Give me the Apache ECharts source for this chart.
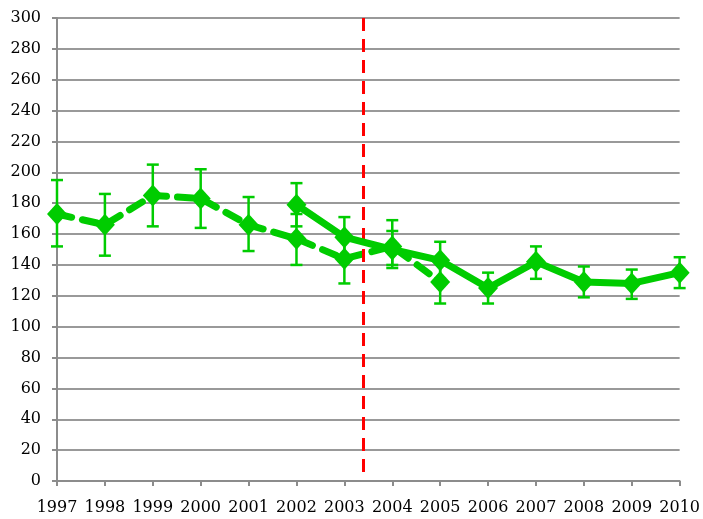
<!DOCTYPE html>
<html>
<head>
<meta charset="utf-8">
<script src="https://cdn.jsdelivr.net/npm/echarts@6/dist/echarts.min.js"></script>
<style>
  html, body { margin: 0; padding: 0; background: #fff; }
  #chart { width: 703px; height: 519px; }
</style>
</head>
<body>
<div id="chart"></div>
<script>
// Years shown along the x axis
var years = [1997, 1998, 1999, 2000, 2001, 2002, 2003, 2004, 2005, 2006, 2007, 2008, 2009, 2010];

// Earlier series (dashed), 1997-2005
var earlyYears = [1997, 1998, 1999, 2000, 2001, 2002, 2003, 2004, 2005];
var earlyValues = [173, 166, 185, 183, 166, 157, 144, 152, 129];
var earlyLow    = [152, 146, 165, 164, 149, 140, 128, 140, 115];
var earlyHigh   = [195, 186, 205, 202, 184, 173, 158, 162, 142];

// Later series (solid), 2002-2010
var lateYears = [2002, 2003, 2004, 2005, 2006, 2007, 2008, 2009, 2010];
var lateValues = [179, 158, 150, 143, 125, 142, 129, 128, 135];
var lateLow    = [165, 145, 138, 131, 115, 131, 119, 118, 125];
var lateHigh   = [193, 171, 169, 155, 135, 152, 139, 137, 145];

// Y axis tick values
var yTicks = [0, 20, 40, 60, 80, 100, 120, 140, 160, 180, 200, 220, 240, 260, 280, 300];

// Position of the vertical break marker (between 2003 and 2004)
var breakYear = 2003.39;

var GREEN = '#00cc00';
var FONT = 'DejaVu Serif';

function pairs(xs, ys) {
  return xs.map(function (x, i) { return [x, ys[i]]; });
}
function errRows(xs, lo, hi) {
  return xs.map(function (x, i) { return [x, lo[i], hi[i]]; });
}

function renderError(params, api) {
  var x = api.value(0);
  var lo = api.coord([x, api.value(1)]);
  var hi = api.coord([x, api.value(2)]);
  var half = 6;
  var style = { stroke: GREEN, lineWidth: 2.5, fill: null };
  return {
    type: 'group',
    children: [
      { type: 'line', shape: { x1: lo[0], y1: lo[1], x2: hi[0], y2: hi[1] }, style: style },
      { type: 'line', shape: { x1: lo[0] - half, y1: lo[1], x2: lo[0] + half, y2: lo[1] }, style: style },
      { type: 'line', shape: { x1: hi[0] - half, y1: hi[1], x2: hi[0] + half, y2: hi[1] }, style: style }
    ]
  };
}

var chart = echarts.init(document.getElementById('chart'), null, { renderer: 'canvas' });

chart.setOption({
  animation: false,
  backgroundColor: '#ffffff',
  grid: { left: 57, right: 23, top: 18, bottom: 38 },
  xAxis: {
    type: 'value',
    min: years[0],
    max: years[years.length - 1],
    interval: 1,
    splitLine: { show: false },
    axisLine: { show: true, lineStyle: { color: '#8c8c8c', width: 2 } },
    axisTick: { show: true, length: 5, lineStyle: { color: '#8c8c8c', width: 2 } },
    axisLabel: {
      color: '#000', fontFamily: FONT, fontSize: 16, margin: 19,
      formatter: function (v) { return years.indexOf(v) >= 0 ? String(v) : ''; }
    }
  },
  yAxis: {
    type: 'value',
    min: yTicks[0],
    max: yTicks[yTicks.length - 1],
    interval: 20,
    axisLine: { show: true, lineStyle: { color: '#8c8c8c', width: 2 } },
    axisTick: { show: true, length: 5, lineStyle: { color: '#8c8c8c', width: 2 } },
    splitLine: { show: true, lineStyle: { color: '#999999', width: 2 } },
    axisLabel: { color: '#000', fontFamily: FONT, fontSize: 16, margin: 16 }
  },
  series: [
    {
      type: 'custom',
      renderItem: renderError,
      data: errRows(earlyYears, earlyLow, earlyHigh),
      encode: { x: 0, y: [1, 2] },
      z: 3
    },
    {
      type: 'custom',
      renderItem: renderError,
      data: errRows(lateYears, lateLow, lateHigh),
      encode: { x: 0, y: [1, 2] },
      z: 3
    },
    {
      type: 'line',
      data: pairs(earlyYears, earlyValues),
      symbol: 'diamond',
      symbolSize: [20, 22],
      itemStyle: { color: GREEN },
      lineStyle: { color: GREEN, width: 7, type: [15, 11], cap: 'round' },
      z: 4
    },
    {
      type: 'line',
      data: pairs(lateYears, lateValues),
      symbol: 'diamond',
      symbolSize: [20, 22],
      itemStyle: { color: GREEN },
      lineStyle: { color: GREEN, width: 7, join: 'round' },
      z: 5,
      markLine: {
        silent: true,
        symbol: ['none', 'none'],
        label: { show: false },
        lineStyle: { color: '#ff0000', width: 3, type: [13, 8] },
        data: [[{ coord: [breakYear, 300] }, { coord: [breakYear, 2] }]]
      }
    }
  ]
});
</script>
</body>
</html>
